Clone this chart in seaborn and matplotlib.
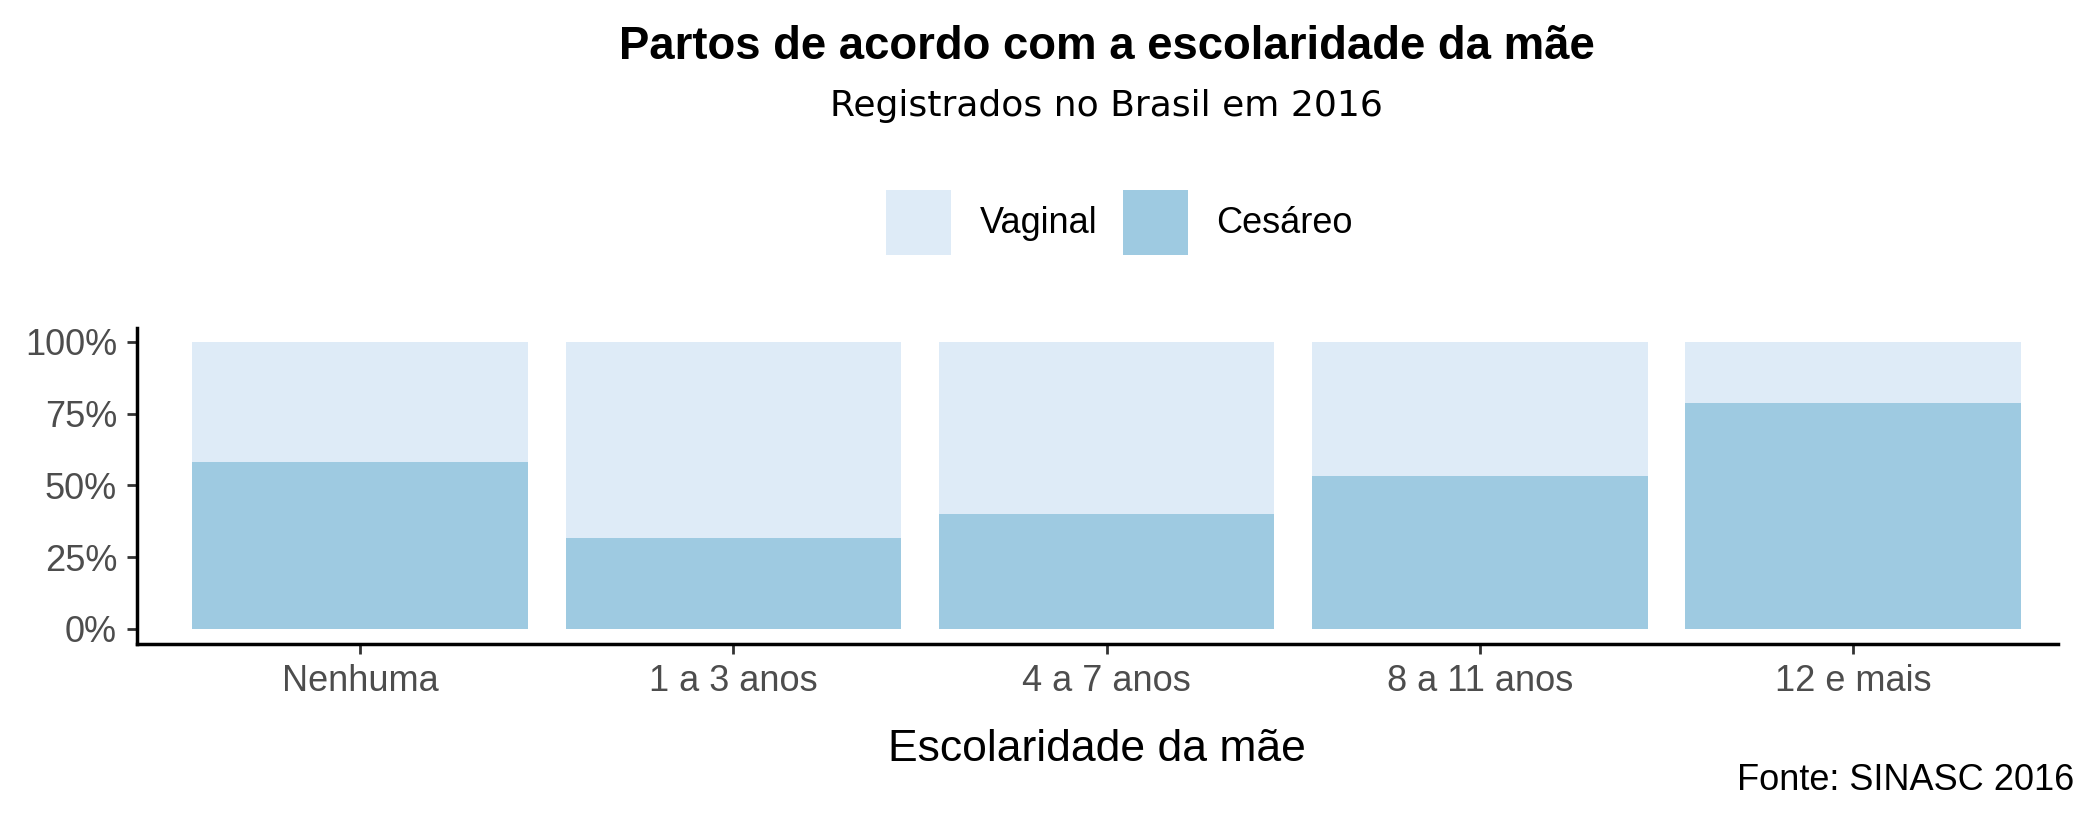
import pandas as pd
import matplotlib
matplotlib.use('Agg')
import matplotlib.pyplot as plt
from matplotlib.ticker import PercentFormatter
import seaborn as sns

sns.set_style('white')
plt.rcParams['font.family'] = ['Liberation Sans', 'DejaVu Sans']
plt.rcParams['text.color'] = 'black'
plt.rcParams['axes.labelcolor'] = 'black'

# data (share of births by mother's schooling, Brasil 2016)
escolaridade = ['Nenhuma', '1 a 3 anos', '4 a 7 anos', '8 a 11 anos', '12 e mais']
cesareo      = [0.581, 0.316, 0.400, 0.533, 0.787]
vaginal      = [1 - c for c in cesareo]

df = pd.DataFrame({'escolaridade': escolaridade,
                   'cesareo': cesareo,
                   'vaginal': vaginal})
df['total'] = df['cesareo'] + df['vaginal']

col_vag = '#DEEBF7'
col_ces = '#9ECAE1'

fig = plt.figure(figsize=(21, 8.26), dpi=100)
ax = fig.add_axes([0.065, 0.220, 0.915, 0.383])

# stacked bars: full bar (vaginal on top) then cesareo at the bottom
sns.barplot(data=df, x='escolaridade', y='total', color=col_vag, saturation=1,
            width=0.9, label='Vaginal', linewidth=0, ax=ax)
sns.barplot(data=df, x='escolaridade', y='cesareo', color=col_ces, saturation=1,
            width=0.9, label='Cesáreo', linewidth=0, ax=ax)

ax.set_xlim(-0.6, 4.55)
ax.set_ylim(-0.054, 1.049)
ax.set_yticks([0, 0.25, 0.5, 0.75, 1.0])
ax.yaxis.set_major_formatter(PercentFormatter(1.0, decimals=0))

for s in ['top', 'right']:
    ax.spines[s].set_visible(False)
for s in ['left', 'bottom']:
    ax.spines[s].set_color('black')
    ax.spines[s].set_linewidth(2.5)

ax.tick_params(axis='both', length=7, width=2, color='#333333',
               labelsize=26, labelcolor='#4D4D4D', pad=7, direction='out',
               left=True, bottom=True)

ax.set_ylabel('')
ax.set_xlabel('Escolaridade da mãe', fontsize=32, color='black', labelpad=22)

if ax.legend_:
    ax.legend_.remove()
handles, labels = ax.get_legend_handles_labels()
fig.legend(handles, labels, loc='center', bbox_to_anchor=(0.533, 0.731),
           ncol=2, frameon=False, fontsize=26, handlelength=1.8,
           handleheight=2.4, handletextpad=0.8, columnspacing=0.7)

fig.text(0.527, 0.943, 'Partos de acordo com a escolaridade da mãe',
         ha='center', va='center', fontsize=32.8, fontweight='bold')
fig.text(0.527, 0.872, 'Registrados no Brasil em 2016',
         ha='center', va='center', fontsize=26, family=['DejaVu Sans'])
fig.text(0.9876, 0.0545, 'Fonte: SINASC 2016', ha='right', va='center',
         fontsize=26)

fig.savefig('out.png', dpi=100)
